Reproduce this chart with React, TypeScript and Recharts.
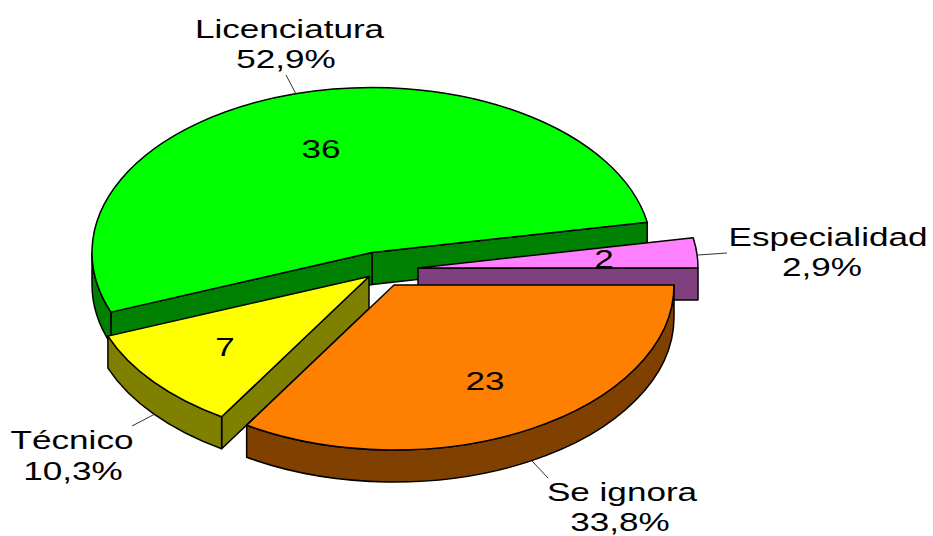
import { Pie, PieChart } from "recharts";

const categories = ["Licenciatura", "Técnico", "Se ignora", "Especialidad"];
const counts = [36, 7, 23, 2];

const tableData = categories.map((name, i) => ({ name, value: counts[i] }));

const WIDTH = 933;
const HEIGHT = 536;
const CX = 372;
const CY = 252.5;
const RADIUS = 280;
const SQUASH = 165 / 280; // tilt of the pie
const DEPTH = 32;
const TEXT_STRETCH = 1.35; // the labels are wider than plain Arial
const FONT = "'Liberation Sans', Arial, sans-serif";

// how each slice is drawn: colours and how far it is pulled out of the centre
const sliceStyles: Record<string, any> = {
  Licenciatura: { top: "#00ff00", side: "#008000", dx: 0, dy: 0 },
  Técnico: { top: "#ffff00", side: "#808000", dx: -3, dy: 24 },
  "Se ignora": { top: "#ff8000", side: "#804000", dx: 22, dy: 32.5 },
  Especialidad: { top: "#ff80ff", side: "#804080", dx: 46, dy: 15.5 },
};

// where the texts go
const labelStyles: Record<string, any> = {
  Licenciatura: {
    nameAt: [289.5, 38],
    pctAt: [286, 68],
    valueAt: [321, 158],
    leader: [286, 75, 296, 94],
  },
  Técnico: {
    nameAt: [72, 449],
    pctAt: [73, 480],
    valueAt: [225, 356],
    leader: [132, 426, 155, 414],
  },
  "Se ignora": {
    nameAt: [622, 501],
    pctAt: [620, 531],
    valueAt: [485, 390],
    leader: [548, 478, 532, 461],
  },
  Especialidad: {
    nameAt: [828, 246],
    pctAt: [822, 276],
    valueAt: [604, 268],
    leader: [698, 255, 727, 253],
  },
};

const rad = (deg: number) => (deg * Math.PI) / 180;

function Slice(props: any) {
  const { cx, cy, outerRadius, startAngle, endAngle, name } = props;
  const style = sliceStyles[name];
  const x0 = cx + style.dx;
  const y0 = cy + style.dy;
  const rx = outerRadius;
  const ry = outerRadius * SQUASH;
  const px = (a: number) => x0 + rx * Math.cos(rad(a));
  const py = (a: number) => y0 - ry * Math.sin(rad(a));
  const large = endAngle - startAngle > 180 ? 1 : 0;

  const edgeWall = (a: number) =>
    `M${x0},${y0} L${px(a)},${py(a)} L${px(a)},${py(a) + DEPTH} L${x0},${y0 + DEPTH} Z`;

  const from = Math.max(startAngle, 180);
  const to = Math.min(endAngle, 360);

  return (
    <g stroke="#000" strokeWidth={1.5} strokeLinejoin="round">
      {Math.cos(rad(startAngle)) > 0 && <path d={edgeWall(startAngle)} fill={style.side} />}
      {Math.cos(rad(endAngle)) < 0 && <path d={edgeWall(endAngle)} fill={style.side} />}
      {to > from && (
        <path
          d={`M${px(from)},${py(from)} A${rx},${ry} 0 0 0 ${px(to)},${py(to)} L${px(to)},${
            py(to) + DEPTH
          } A${rx},${ry} 0 0 1 ${px(from)},${py(from) + DEPTH} Z`}
          fill={style.side}
        />
      )}
      <path
        d={`M${x0},${y0} L${px(startAngle)},${py(startAngle)} A${rx},${ry} 0 ${large} 0 ${px(
          endAngle
        )},${py(endAngle)} Z`}
        fill={style.top}
      />
    </g>
  );
}

// orange has to sit over the purple wall, so it goes in a second pie on top
const backShape = (props: any) => (props.name === "Se ignora" ? <g /> : <Slice {...props} />);
const frontShape = (props: any) => (props.name === "Se ignora" ? <Slice {...props} /> : <g />);

function StretchedText({ at, children }: { at: number[]; children: any }) {
  return (
    <text
      transform={`translate(${at[0]},${at[1]}) scale(${TEXT_STRETCH},1)`}
      textAnchor="middle"
      fontFamily={FONT}
      fontSize={26}
      fill="#000"
    >
      {children}
    </text>
  );
}

function renderLabel(props: any) {
  const s = labelStyles[props.name];
  const pct = (props.percent * 100).toFixed(1).replace(".", ",") + "%";
  const [x1, y1, x2, y2] = s.leader;
  return (
    <g>
      <line x1={x1} y1={y1} x2={x2} y2={y2} stroke="#333" strokeWidth={1} />
      <StretchedText at={s.nameAt}>{props.name}</StretchedText>
      <StretchedText at={s.pctAt}>{pct}</StretchedText>
      <StretchedText at={s.valueAt}>{props.value}</StretchedText>
    </g>
  );
}

export default function App() {
  return (
    <div style={{ position: "absolute", left: 0, top: 0, width: WIDTH, height: HEIGHT }}>
      <PieChart width={WIDTH} height={HEIGHT} margin={{ top: 0, right: 0, bottom: 0, left: 0 }}>
        <Pie
          data={tableData}
          dataKey="value"
          nameKey="name"
          cx={CX}
          cy={CY}
          innerRadius={0}
          outerRadius={RADIUS}
          startAngle={10.6}
          endAngle={370.6}
          shape={backShape}
          label={false}
          labelLine={false}
          isAnimationActive={false}
        />
        <Pie
          data={tableData}
          dataKey="value"
          nameKey="name"
          cx={CX}
          cy={CY}
          innerRadius={0}
          outerRadius={RADIUS}
          startAngle={10.6}
          endAngle={370.6}
          shape={frontShape}
          label={renderLabel}
          labelLine={false}
          isAnimationActive={false}
        />
      </PieChart>
    </div>
  );
}
